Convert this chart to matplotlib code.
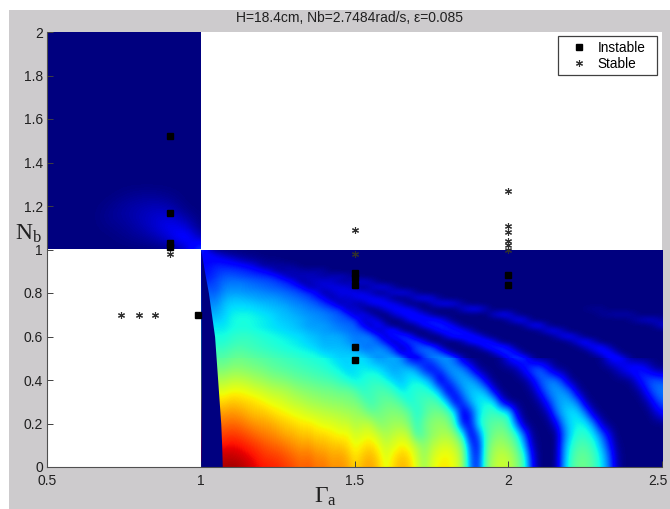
import numpy as np
import matplotlib
matplotlib.use("Agg")
import matplotlib.pyplot as plt
from matplotlib.patches import Rectangle
from matplotlib.transforms import ScaledTranslation

plt.rcParams['font.family'] = ['Liberation Sans', 'DejaVu Sans']
plt.rcParams['mathtext.fontset'] = 'custom'
plt.rcParams['mathtext.rm'] = 'Liberation Serif'

title = 'H=18.4cm, Nb=2.7484rad/s, \u03b5=0.085'

instable_x = [0.9, 0.9, 0.9, 0.9, 0.99, 1.5, 1.5, 1.5, 1.5, 1.5, 2.0, 2.0]
instable_y = [1.52, 1.17, 1.03, 1.01, 0.70, 0.89, 0.87, 0.835, 0.55, 0.49, 0.885, 0.835]
stable_x = [0.74, 0.8, 0.85, 0.9, 1.5, 1.5, 2.0, 2.0, 2.0, 2.0, 2.0, 2.0]
stable_y = [0.70, 0.70, 0.70, 0.98, 1.09, 0.98, 1.27, 1.11, 1.08, 1.04, 1.02, 1.0]

xticks = [0.5, 1, 1.5, 2, 2.5]
yticks = [0, 0.2, 0.4, 0.6, 0.8, 1, 1.2, 1.4, 1.6, 1.8, 2]
xticklabels = ['0.5', '1', '1.5', '2', '2.5']
yticklabels = ['0', '0.2', '0.4', '0.6', '0.8', '1', '1.2', '1.4', '1.6', '1.8', '2']

# growth rate, percent of the jet range
# columns Gamma = 1, 1.025 .. 2.5, rows stop at the last non zero value
# rows N = 0, 0.05 .. 0.5
heat_low = [
    [96,96,96,96,97,96,94,91,89,88, 87,85,83,80,82,78,79,75,76,74, 68,72,74,70,62,68,72,70,62,54, 62,66,66,63,55,25,15,48,57,60, 58,52,42,14,0,0,0,26,42,48, 48,44,36,24,5],
    [94,94,94,94,94,93,91,89,86,85, 84,82,80,78,79,76,76,73,74,72, 66,70,72,68,61,66,70,68,60,53, 60,64,65,62,54,24,14,47,56,59, 57,51,40,12,0,0,0,25,41,47, 47,43,35,22,4],
    [89,89,89,89,90,89,87,85,83,81, 80,78,76,74,75,72,72,70,70,68, 63,66,68,64,59,62,65,63,57,51, 57,60,61,58,50,20,12,45,53,55, 52,46,30,6,0,0,0,24,38,44, 44,40,30,16,2],
    [84,84,84,84,85,84,82,80,78,77, 75,73,72,70,70,68,68,66,64,65, 60,62,63,59,55,58,60,58,42,47, 52,55,56,52,38,8,22,42,49,51, 48,40,22,2,0,0,0,20,34,40, 40,35,24,10],
    [79,79,79,79,80,79,77,75,74,73, 71,69,68,66,66,64,62,62,60,60, 56,58,58,51,52,54,54,50,41,48, 52,53,52,40,12,14,36,44,46,47, 42,22,2,0,0,0,8,26,34,37, 36,26,6],
    [74,74,74,74,75,74,72,70,70,68, 66,65,63,62,60,59,58,57,56,55, 54,52,47,48,50,51,50,47,38,44, 48,49,46,36,8,16,33,40,42,41, 38,8,0,0,0,4,22,31,35,34, 24,4,0,0,0,0,0,0,0,6, 14],
    [68,68,68,68,70,69,68,67,65,63, 62,60,58,57,55,54,53,52,52,50, 50,46,42,45,47,47,44,37,41,43, 45,42,32,8,18,30,36,37,37,12, 0,0,0,0,3,16,26,30,30,24, 3,0,0,0,0,0,0,0,4,16, 22],
    [62,62,62,62,64,64,63,61,60,58, 57,56,54,52,51,50,49,49,47,48, 45,40,42,44,44,41,35,38,40,40, 38,30,8,16,27,32,33,30,10,0, 0,0,0,2,14,24,28,28,22,3, 0,0,0,0,0,0,0,3,15,23, 25],
    [56,56,56,56,58,58,57,55,54,52, 51,50,48,47,46,45,44,43,41,38, 35,38,40,40,37,33,31,35,37,35, 26,6,18,26,30,30,24,8,0,0, 0,0,1,10,21,25,26,16,1,0, 0,0,0,0,0,0,3,14,20,22, 20],
    [50,50,50,50,52,52,51,50,49,47, 46,45,44,43,42,41,40,38,36,33, 35,36,36,35,31,28,31,33,28,14, 10,20,27,29,27,16,2,0,0,0, 0,3,14,22,24,14,2,0,0,0, 0,0,0,0,5,12,16,16,10,2],
    [45,45,45,45,47,48,47,46,45,44, 43,42,41,40,39,38,37,35,33,33, 34,34,30,26,28,30,26,12,8,18, 24,27,27,20,5,0,0,0,0,3, 13,19,16,4,0,0,0,0,0,0, 0,0,2,12,15,8,1],
]
# rows N = 0.5, 0.525 .. 1
heat_high = [
    [45,45,45,45,47,48,47,46,45,44, 43,42,41,40,39,38,37,35,33,33, 34,34,30,26,28,30,26,12,8,18, 24,27,27,20,5,0,0,0,0,3, 13,19,16,4,0,0,0,0,0,0, 0,0,2,12,15,8,1],
    [43,43,43,43,45,46,45,44,43,42, 41,40,39,38,37,36,33,33,32,32, 31,28,26,28,27,22,8,10,18,22, 24,21,11,1,0,0,0,0,6,15, 18,11,1,0,0,0,0,0,0,0, 0,5,12,14,5],
    [41,41,41,41,43,44,43,42,41,40, 39,38,37,36,35,33,31,31,31,30, 28,24,24,26,23,14,5,12,20,22, 20,8,0,0,0,0,3,12,17,17, 10,1,0,0,0,0,0,0,0,1, 7,12,13,5],
    [39,39,39,39,41,42,42,41,40,39, 38,37,36,35,33,32,30,30,30,28, 25,25,25,22,14,4,12,18,19,10, 1,0,0,0,4,12,15,16,10,1, 0,0,0,0,0,0,0,0,3,10, 13,6],
    [38,38,38,38,40,41,41,40,39,38, 37,36,35,34,32,31,29,30,29,27, 24,25,24,16,5,14,18,15,3,0, 0,1,9,14,15,14,11,3,0,0, 0,0,0,0,0,0,3,10,12,5],
    [36,36,36,36,38,39,39,38,37,36, 35,34,33,32,30,29,28,27,26,24, 23,21,13,4,12,16,5,0,0,0, 6,13,15,15,12,6,0,0,0,0, 0,0,0,0,2,9,11,5],
    [35,35,35,35,37,38,38,37,36,35, 34,33,32,30,28,28,28,26,24,23, 22,12,4,14,6,0,0,0,4,12, 15,16,14,8,1,0,0,0,0,0, 0,0,3,11,12,3,0,0,0,0, 0,0,0,0,0,0,0,0,0,3, 8],
    [32,32,32,34,37,38,38,37,36,35, 33,32,31,30,28,27,26,24,22,21, 18,5,12,8,0,0,2,10,13,14, 14,12,5,0,0,0,0,0,0,0, 4,11,10,1,0,0,0,0,0,0, 0,0,0,0,0,0,2,5,7,6, 3],
    [30,30,30,33,36,37,37,36,35,34, 32,31,30,28,27,26,25,23,21,17, 5,12,5,0,0,7,11,13,12,9, 3,0,0,0,0,0,0,0,7,11, 10,2,0,0,0,0,0,0,0,0, 0,0,2,3,4,4,3],
    [28,28,28,32,35,35,35,34,33,32, 31,30,28,27,25,24,22,19,17,4, 9,3,0,3,9,12,12,11,6,0, 0,0,0,1,7,11,11,5,0,0, 0,0,0,0,0,0,0,0,0,0, 1,2,2],
    [26,26,26,31,33,33,33,32,31,30, 29,28,26,25,23,21,17,13,3,8, 4,4,10,12,12,10,6,0,0,0, 6,10,11,9,3],
    [24,24,24,29,31,31,30,29,28,28, 27,25,24,22,20,16,11,3,8,6, 9,11,11,10,7,1,0,3,9,11, 9,2],
    [22,22,22,27,28,28,27,27,26,25, 24,23,21,19,16,11,3,7,9,10, 10,9,6,1,3,8,10,8,2],
    [20,20,20,25,26,26,25,24,23,22, 21,19,17,13,4,6,8,9,9,8, 4,1,5,9,9,4],
    [17,17,20,23,24,24,23,22,21,20, 18,16,11,3,5,7,8,7,4,3, 7,8,6,1],
    [15,15,18,21,21,20,19,18,17,16, 13,6,4,5,6,5,3,5,6,4, 1],
    [14,14,17,18,18,17,16,14,12,8, 3,4,5,4,3,4,3],
    [13,13,15,15,14,13,11,8,3,3, 3,3,2],
    [12,12,12,11,9,6,4,3,2,1, 1],
    [12,12,9,5,3,2,1,1],
    [20,6],
]

# dark strip right of Gamma = 1, its right edge against N
strip_n = [0, 0.1, 0.2, 0.3, 0.4, 0.5, 0.6, 0.7, 0.8, 0.9, 1.0]
strip_g = [1.07, 1.068, 1.065, 1.06, 1.055, 1.05, 1.045, 1.035, 1.025, 1.012, 1.0]

# upper left quadrant: rows N = 1, 1.05 .. 2, columns Gamma = 0.5, 0.55 .. 1
plume_rows = [
    [0, 0, 0, 0, 0, 0, 0, 0, 1, 5, 22],
    [0, 0, 0, 0, 0, 1, 2, 4, 8, 16, 4],
    [0, 0, 0, 0, 1, 2, 4, 7, 11, 9, 0],
    [0, 0, 0, 0, 2, 3, 5, 7, 8, 3, 0],
    [0, 0, 0, 0, 1, 3, 4, 5, 4, 0, 0],
    [0, 0, 0, 0, 0, 1, 2, 2, 1, 0, 0],
]


def pad(rows, ncol=61):
    return np.array([r + [0] * (ncol - len(r)) for r in rows], dtype=float) / 100


def show(ax, vals, x0, x1, y0, y1):
    dx = (x1 - x0) / (vals.shape[1] - 1)
    dy = (y1 - y0) / (vals.shape[0] - 1)
    im = ax.imshow(vals, origin='lower', cmap='jet', vmin=0, vmax=1, aspect='auto', interpolation='bicubic',
                   extent=(x0 - dx / 2, x1 + dx / 2, y0 - dy / 2, y1 + dy / 2), zorder=1)
    im.set_clip_path(Rectangle((x0, y0), x1 - x0, y1 - y0, transform=ax.transData))


fig = plt.figure(figsize=(6.7, 5.09), dpi=100, facecolor='white')
fig.patches.append(Rectangle((9 / 670, 0), 661 / 670, 499 / 509, transform=fig.transFigure,
                             facecolor='#cdcbcd', edgecolor='none', zorder=-5))
ax = fig.add_axes([47 / 670, 42 / 509, 615 / 670, 435 / 509], facecolor='white')

show(ax, pad(heat_low), 1, 2.5, 0, 0.5)
show(ax, pad(heat_high), 1, 2.5, 0.5, 1)
ax.fill_betweenx(strip_n, 1.0, strip_g, color=plt.cm.jet(0.0), linewidth=0, zorder=2)

upper = np.zeros((21, 11))
upper[:len(plume_rows)] = np.array(plume_rows) / 100
show(ax, upper, 0.5, 1, 1, 2)

ax.plot(instable_x, instable_y, 's', color='black', ms=4.3, label='Instable', zorder=5, clip_on=False)
ax.plot(stable_x, stable_y, linestyle='none', marker=(6, 2, 0), color='#303030', ms=5, mew=0.8,
        label='Stable', zorder=5, clip_on=False)

ax.set_xlim(0.5, 2.5)
ax.set_ylim(0, 2)
ax.set_xticks(xticks)
ax.set_xticklabels(xticklabels)
ax.set_yticks(yticks)
ax.set_yticklabels(yticklabels)
ax.tick_params(direction='in', length=4, width=0.7, color='#404040', labelsize=10, labelcolor='#202020', pad=5)
ax.tick_params(axis='y', pad=3)
for side in ['top', 'right']:
    ax.spines[side].set_visible(False)
for side in ['left', 'bottom']:
    ax.spines[side].set_color('#505050')
    ax.spines[side].set_linewidth(0.8)

# keep the last label inside the picture
last = ax.get_xticklabels()[-1]
last.set_transform(last.get_transform() + ScaledTranslation(-3 / 72, 0, fig.dpi_scale_trans))

fig.text(350 / 670, 1 - 18 / 509, title, ha='center', va='center', fontsize=10, color='#202020')
fig.text(15 / 670, 1 - 234 / 509, r'$\mathrm{N_b}$', ha='left', va='center', fontsize=17, color='#202020')
fig.text(314 / 670, 1 - 497 / 509, r'$\mathrm{\Gamma_a}$', ha='left', va='center', fontsize=17, color='#202020')

# legend box drawn by hand, wider on the right than legend() would make it
ax.add_patch(Rectangle((558 / 670, 1 - 75 / 509), 99 / 670, 39 / 509, transform=fig.transFigure,
                       facecolor='white', edgecolor='#404040', linewidth=0.9, zorder=5.5, clip_on=False))
leg = ax.legend(loc='upper left', bbox_to_anchor=(558 / 670, 1 - 36 / 509), bbox_transform=fig.transFigure,
                fontsize=9.8, frameon=False, borderaxespad=0,
                handlelength=2.35, labelspacing=0.15, borderpad=0.35, handletextpad=0.2)
leg.set_zorder(6)

fig.savefig('out.png', dpi=100, facecolor=fig.get_facecolor())
